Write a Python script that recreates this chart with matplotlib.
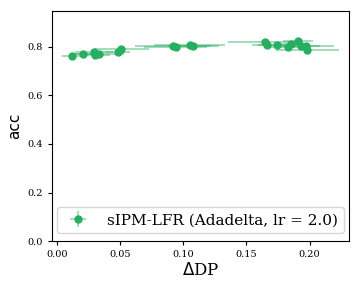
import matplotlib
matplotlib.use("Agg")
import matplotlib.pyplot as plt

dp = [0.012, 0.021, 0.029, 0.030, 0.033, 0.048, 0.051,
      0.092, 0.094, 0.105, 0.108,
      0.165, 0.166, 0.174, 0.183, 0.185, 0.191, 0.193, 0.197, 0.198]
acc = [0.763, 0.771, 0.779, 0.767, 0.771, 0.779, 0.792,
       0.804, 0.800, 0.808, 0.804,
       0.821, 0.808, 0.808, 0.800, 0.812, 0.825, 0.804, 0.804, 0.788]
dp_err = [0.008, 0.010, 0.015, 0.012, 0.020, 0.010, 0.022,
          0.030, 0.025, 0.028, 0.020,
          0.030, 0.012, 0.015, 0.018, 0.010, 0.012, 0.015, 0.022, 0.025]
acc_err = [0.004, 0.003, 0.004, 0.003, 0.004, 0.003, 0.004,
           0.003, 0.003, 0.004, 0.003,
           0.004, 0.003, 0.003, 0.004, 0.003, 0.004, 0.003, 0.003, 0.004]
label = "sIPM-LFR (Adadelta, lr = 2.0)"
color = "#27ae60"

plt.rcParams["font.family"] = "DejaVu Serif"

fig = plt.figure(figsize=(3.6, 2.88), dpi=100)
ax = fig.add_axes([0.144, 0.163, 0.825, 0.799])
ax.errorbar(dp, acc, xerr=dp_err, yerr=acc_err, fmt="o", color=color,
            ecolor=color, elinewidth=1.2, markersize=5,
            label=label, capsize=0)
# lighten error bars
for coll in ax.collections:
    coll.set_alpha(0.5)

ax.set_xlim(-0.004, 0.231)
ax.set_ylim(0.0, 0.948)
ax.set_xticks([0.0, 0.05, 0.10, 0.15, 0.20])
ax.set_yticks([0.0, 0.2, 0.4, 0.6, 0.8])
ax.tick_params(labelsize=7, length=3)
ax.set_xlabel(r"$\Delta$DP", fontsize=12, labelpad=2)
ax.set_ylabel("acc", fontsize=11, family="DejaVu Sans")
ax.legend(loc="lower center", fontsize=11, handletextpad=0.9,
          borderpad=0.4)

fig.savefig("out.png")
